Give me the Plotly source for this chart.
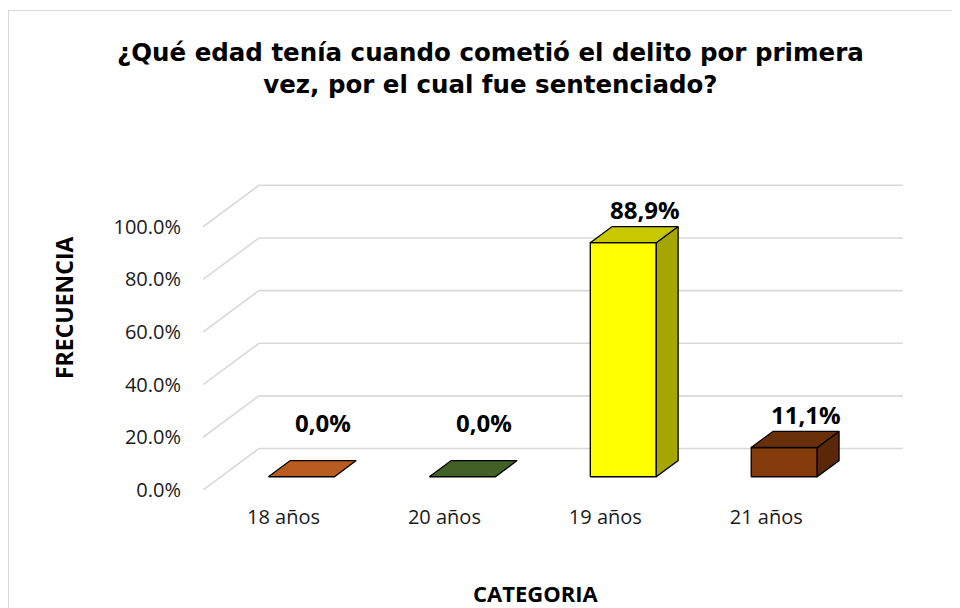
import plotly.graph_objects as go

# ---------------- data ----------------
categories = ["18 años", "20 años", "19 años", "21 años"]
values = [0.0, 0.0, 88.9, 11.1]
value_labels = ["0,0%", "0,0%", "88,9%", "11,1%"]
y_ticks = [0, 20, 40, 60, 80, 100]
y_tick_labels = ["0.0%", "20.0%", "40.0%", "60.0%", "80.0%", "100.0%"]

title_text = "¿Qué edad tenía cuando cometió el delito por primera<br>vez, por el cual fue sentenciado?"
x_title = "CATEGORIA"
y_title = "FRECUENCIA"

# ---------------- styles ----------------
front_colors = ["#E9752B", "#54793A", "#FFFF00", "#843C0C"]
top_colors = ["#B85C22", "#426127", "#C8C800", "#6A300A"]
side_colors = ["#9A4C1C", "#374F22", "#A6A600", "#5A2808"]
grid_color = "#D9D9D9"

DX = 0.348   # depth offset in category units
DY = 15.75   # depth offset in % units
F0, F1 = 0.32, 0.71  # bar depth position (front, back)
HW = 0.205   # bar half width
LABEL_MIN = 8

fig = go.Figure()

# back wall gridlines + left wall diagonals
for v in y_ticks:
    fig.add_trace(go.Scatter(
        x=[-0.5, -0.5 + DX, 3.5 + DX], y=[v, v + DY, v + DY],
        mode="lines", line=dict(color=grid_color, width=1.6),
        hoverinfo="skip", showlegend=False))

def poly(xs, ys, color):
    fig.add_trace(go.Scatter(
        x=xs + [xs[0]], y=ys + [ys[0]], fill="toself", fillcolor=color,
        mode="lines", line=dict(color="black", width=1.3),
        hoverinfo="skip", showlegend=False))

bx = (F1 - F0) * DX
by = (F1 - F0) * DY
for i, (cat, v) in enumerate(zip(categories, values)):
    xf0 = i - HW + F0 * DX
    xf1 = i + HW + F0 * DX
    yb = F0 * DY
    yt = v + F0 * DY
    if v > 0:
        poly([xf0, xf1, xf1, xf0], [yb, yb, yt, yt], front_colors[i])
        poly([xf1, xf1 + bx, xf1 + bx, xf1], [yb, yb + by, yt + by, yt], side_colors[i])
    poly([xf0, xf1, xf1 + bx, xf0 + bx], [yt, yt, yt + by, yt + by], top_colors[i])
    fig.add_annotation(
        x=i + F1 * DX, y=max(v, LABEL_MIN) + F1 * DY, xref="x", yref="y",
        text=value_labels[i], showarrow=False, yanchor="middle", yshift=17,
        font=dict(family="Open Sans", size=24, color="black", weight="bold"))

fig.update_xaxes(
    range=[-0.5, 3.5 + DX + 0.02], tickvals=list(range(len(categories))),
    ticktext=categories, showgrid=False, zeroline=False, showline=False,
    ticks="", ticklabelstandoff=13,
    tickfont=dict(family="Open Sans", size=20, color="#1a1a1a"))
fig.update_yaxes(
    range=[0, 117], tickvals=y_ticks, ticktext=y_tick_labels,
    showgrid=False, zeroline=False, showline=False, ticks="",
    ticklabelstandoff=21,
    tickfont=dict(family="Open Sans", size=20, color="#1a1a1a"))

# frame
fig.add_shape(type="rect", xref="paper", yref="paper",
              x0=(8.5 - 203) / 703, x1=(1100 - 203) / 703,
              y0=(490 - 800) / 308, y1=(490 - 10.5) / 308,
              line=dict(color="#D9D9D9", width=1.2), fillcolor="rgba(0,0,0,0)",
              layer="below")

fig.add_annotation(text=title_text, xref="paper", yref="paper",
                   x=(490 - 203) / 703, y=(490 - 68) / 308,
                   xanchor="center", yanchor="middle", showarrow=False,
                   font=dict(family="DejaVu Sans", size=24.5, color="black", weight="bold"))
fig.add_annotation(text=x_title, xref="paper", yref="paper",
                   x=(536 - 203) / 703, y=(490 - 593) / 308,
                   xanchor="center", yanchor="middle", showarrow=False,
                   font=dict(family="Open Sans", size=22, color="black", weight="bold"))
fig.add_annotation(text=y_title, xref="paper", yref="paper",
                   x=(64 - 203) / 703, y=(490 - 308) / 308, textangle=-90,
                   xanchor="center", yanchor="middle", showarrow=False,
                   font=dict(family="Open Sans", size=23, color="black", weight="bold"))

fig.update_layout(
    width=960, height=608,
    margin=dict(l=195, r=62, t=174, b=126),
    paper_bgcolor="white", plot_bgcolor="white",
    showlegend=False)

fig.write_html("out.html")
